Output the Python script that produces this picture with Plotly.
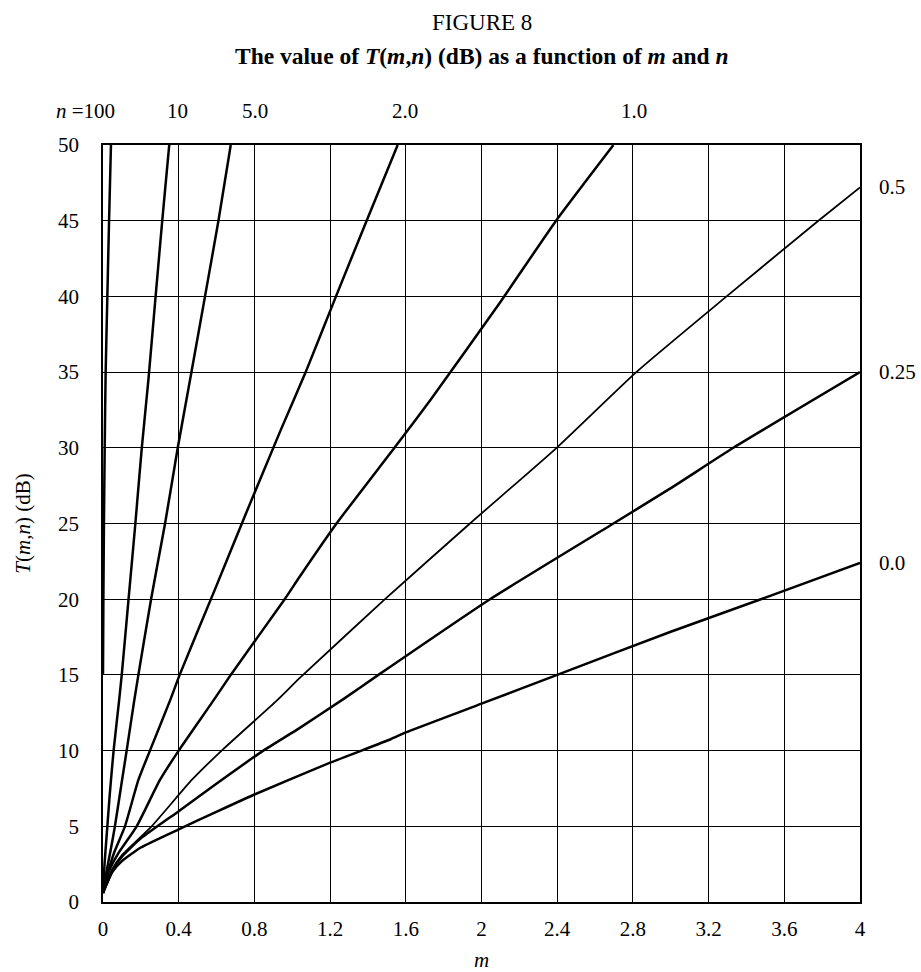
import plotly.graph_objects as go

# ---- data (m, T(m,n) in dB) ----
n_labels = ["100", "10", "5.0", "2.0", "1.0", "0.5", "0.25", "0.0"]

m_n100 = [0, 0.002, 0.005, 0.009, 0.014, 0.023, 0.032, 0.042]
t_n100 = [15, 20, 25, 30, 35, 40, 45, 50]

m_n10 = [0, 0.008, 0.02, 0.035, 0.056, 0.085, 0.099, 0.135, 0.171, 0.205, 0.24, 0.278, 0.313, 0.35]
t_n10 = [0.6, 2.5, 4.5, 7.0, 10, 13.3, 15, 20, 25, 30, 34.5, 40, 45, 50]

m_n5 = [0, 0.02, 0.04, 0.063, 0.1, 0.125, 0.165, 0.187, 0.254, 0.328, 0.395, 0.46, 0.539, 0.61, 0.675]
t_n5 = [0.6, 2.1, 3.4, 5, 8.0, 10, 13.3, 15, 20, 25, 30, 34.5, 40, 45, 50]

m_n2 = [0, 0.03, 0.06, 0.116, 0.187, 0.248, 0.354, 0.405, 0.59, 0.75, 0.94, 1.071, 1.231, 1.393, 1.557]
t_n2 = [0.6, 2.1, 3.3, 5, 8.06, 10, 13.3, 15, 20.6, 25.5, 31.2, 35, 40, 45, 50]

m_n1 = [0, 0.03, 0.08, 0.178, 0.301, 0.4, 0.583, 0.675, 0.96, 1.04, 1.234, 1.54, 1.733, 2.098, 2.394, 2.697]
t_n1 = [0.6, 2.0, 3.2, 5, 8.06, 10, 13.3, 15, 20, 21.5, 25, 30, 33.2, 39.6, 45, 50]

m_n05 = [0, 0.05, 0.1, 0.257, 0.469, 0.627, 0.918, 1.04, 1.49, 1.939, 2.397, 2.818, 3.295, 3.78, 4.0]
t_n05 = [0.6, 2.2, 3.1, 5, 8.06, 10, 13.3, 14.8, 20, 25, 30, 35, 40, 45, 47.2]

m_n025 = [0, 0.05, 0.1, 0.2, 0.4, 0.59, 0.847, 1.04, 1.27, 1.455, 2.045, 2.697, 2.996, 3.331, 4.0]
t_n025 = [0.6, 2.1, 3.0, 4.2, 6.0, 7.73, 10, 11.5, 13.4, 15, 20, 25, 27.3, 30, 35]

m_n0 = [0, 0.05, 0.1, 0.2, 0.4, 0.59, 0.8, 1.2, 1.52, 1.6, 2.0, 2.4, 3.0, 3.5, 4.0]
t_n0 = [0.6, 2.0, 2.7, 3.6, 4.8, 5.9, 7.1, 9.2, 10.75, 11.2, 13.1, 15.0, 17.85, 20.1, 22.4]

x_ticks = [0, 0.4, 0.8, 1.2, 1.6, 2, 2.4, 2.8, 3.2, 3.6, 4]
x_tick_text = ["0", "0.4", "0.8", "1.2", "1.6", "2", "2.4", "2.8", "3.2", "3.6", "4"]
y_ticks = [0, 5, 10, 15, 20, 25, 30, 35, 40, 45, 50]

series = [
    (m_n100, t_n100, 2.5),
    (m_n10, t_n10, 2.5),
    (m_n5, t_n5, 2.5),
    (m_n2, t_n2, 2.5),
    (m_n1, t_n1, 2.5),
    (m_n05, t_n05, 1.8),
    (m_n025, t_n025, 2.5),
    (m_n0, t_n0, 2.5),
]

FONT = "Liberation Serif"
FS = 21

fig = go.Figure()
for (mx, ty, w), lab in zip(series, n_labels):
    fig.add_trace(go.Scatter(x=mx, y=ty, mode="lines", name=lab,
                             line=dict(color="black", width=w, shape="spline", smoothing=0.5),
                             showlegend=False))

fig.update_layout(
    width=921, height=972,
    margin=dict(l=103, r=61, t=145, b=70),
    paper_bgcolor="white", plot_bgcolor="white",
    font=dict(family=FONT, size=FS, color="black"),
)
fig.update_xaxes(
    range=[0, 4], tickvals=x_ticks, ticktext=x_tick_text,
    showgrid=True, gridcolor="black", gridwidth=1,
    showline=True, linecolor="black", linewidth=1.5, mirror=True,
    ticks="", zeroline=False, ticklabelstandoff=7, automargin=False,
    title=dict(text="<i>m</i>", font=dict(family=FONT, size=FS), standoff=14),
)
fig.update_yaxes(
    range=[0, 50], tickvals=y_ticks,
    showgrid=True, gridcolor="black", gridwidth=1,
    showline=True, linecolor="black", linewidth=1.5, mirror=True,
    ticks="", zeroline=False, ticklabelstandoff=18, automargin=False,
    title=dict(text="<i>T</i>(<i>m</i>,<i>n</i>) (dB)", font=dict(family=FONT, size=FS), standoff=22),
)

# titles
fig.add_annotation(text="FIGURE 8", xref="paper", yref="paper", x=0.5, y=1, yshift=123,
                   showarrow=False, font=dict(family=FONT, size=23), xanchor="center", yanchor="middle")
fig.add_annotation(text="<b>The value of <i>T</i>(<i>m</i>,<i>n</i>) (dB) as a function of <i>m</i> and <i>n</i></b>",
                   xref="paper", yref="paper", x=0.5, y=1, yshift=89,
                   showarrow=False, font=dict(family=FONT, size=23.5), xanchor="center", yanchor="middle")

# top labels for n (x in m units, converted to paper fraction)
top_label_m = {"100": -0.09, "10": 0.396, "5.0": 0.803, "2.0": 1.596, "1.0": 2.806}
for lab, mv in top_label_m.items():
    txt = "<i>n</i> =100" if lab == "100" else lab
    fig.add_annotation(text=txt, xref="paper", yref="paper", x=mv / 4.0, y=1, yshift=34,
                       showarrow=False, font=dict(family=FONT, size=FS),
                       xanchor="center", yanchor="middle")

# right labels at the end of the curves
for (mx, ty, w), lab in zip(series[5:], n_labels[5:]):
    fig.add_annotation(text=lab, xref="paper", yref="y", x=1, xshift=17, y=ty[-1],
                       showarrow=False, font=dict(family=FONT, size=FS),
                       xanchor="left", yanchor="middle")

fig.write_html("out.html", config={"displayModeBar": False},
               post_script="document.body.style.margin='0';document.body.style.overflow='hidden';")
